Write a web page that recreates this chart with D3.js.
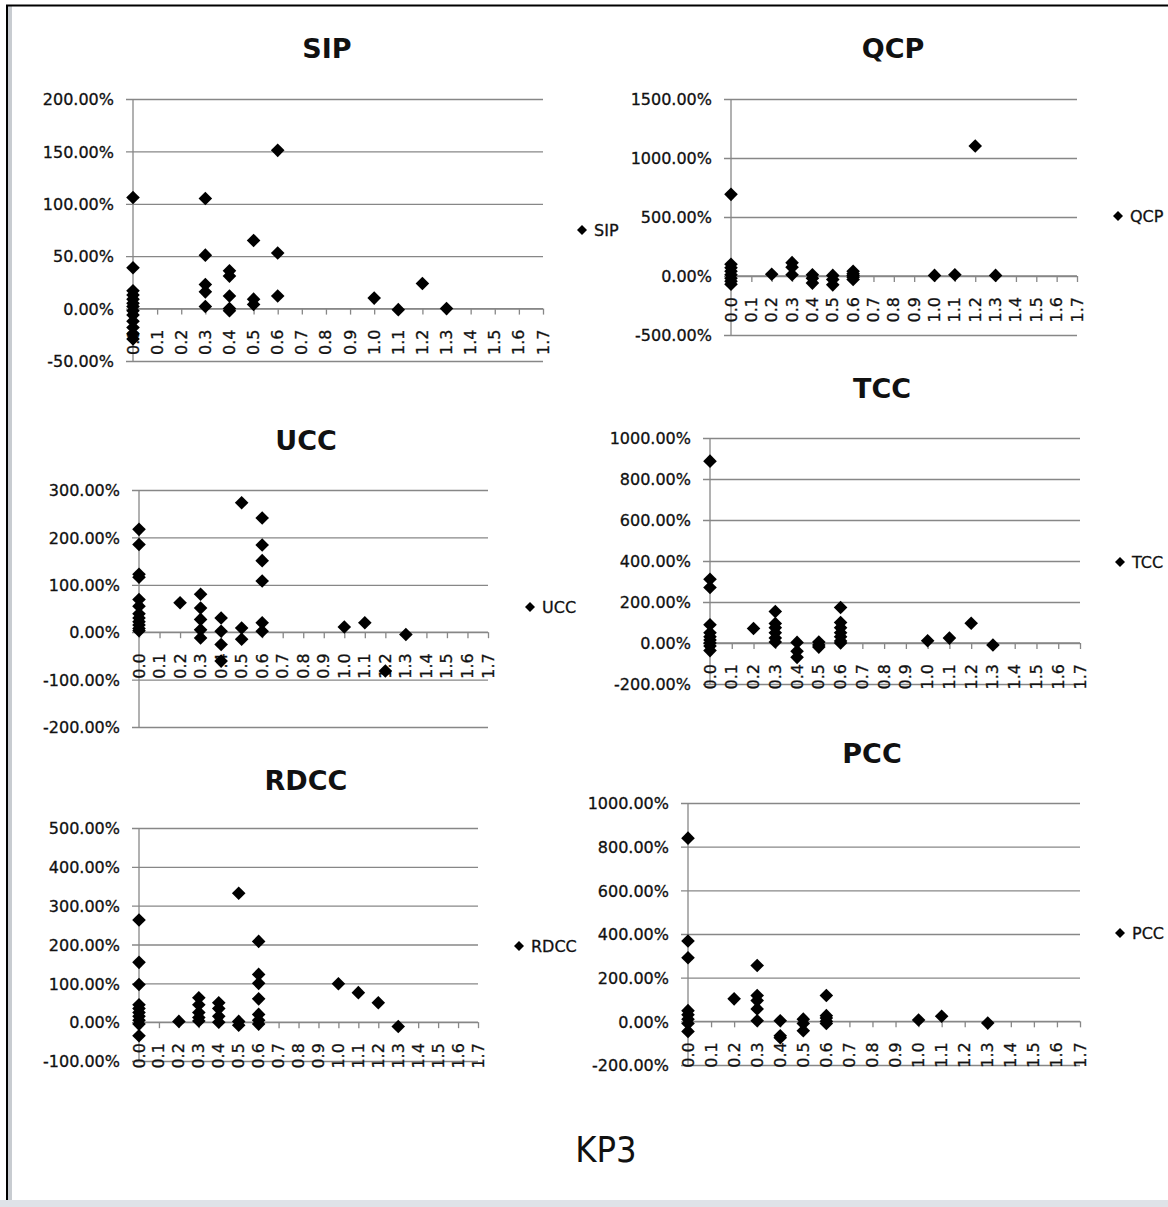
<!DOCTYPE html>
<html><head><meta charset="utf-8">
<script src="https://cdn.jsdelivr.net/npm/d3@7"></script>
<style>
html,body{margin:0;padding:0;background:#fff;}
svg{display:block;}
text{font-family:"DejaVu Sans",Verdana,sans-serif;fill:#111;}
.lbl{stroke:#111;stroke-width:0.3px;}
</style></head>
<body>
<svg id="chart" width="1168" height="1207"></svg>
<script>
// ----- data (x = KP3 value, y = percent) -----
const xTicks = [0.0,0.1,0.2,0.3,0.4,0.5,0.6,0.7,0.8,0.9,1.0,1.1,1.2,1.3,1.4,1.5,1.6,1.7];

const sipPoints = [
  [0,106],[0,39],[0,17],[0,13],[0,9],[0,5],[0,2],[0,-2],[0,-6],[0,-12],[0,-18],[0,-24],[0,-29],
  [0.3,105],[0.3,51],[0.3,23],[0.3,16],[0.3,2],
  [0.4,36],[0.4,31],[0.4,12],[0.4,0],[0.4,-2],
  [0.5,65],[0.5,9],[0.5,4],
  [0.6,151],[0.6,53],[0.6,12],
  [1.0,10],[1.1,-1],[1.2,24],[1.3,0]
];
const qcpPoints = [
  [0,692],[0,99],[0,70],[0,40],[0,10],[0,-20],[0,-45],[0,-70],
  [0.2,15],
  [0.3,113],[0.3,75],[0.3,10],
  [0.4,10],[0.4,-20],[0.4,-60],
  [0.5,5],[0.5,-30],[0.5,-75],
  [0.6,40],[0.6,20],[0.6,5],[0.6,-10],[0.6,-30],
  [1.0,5],[1.1,10],[1.2,1102],[1.3,5]
];
const uccPoints = [
  [0,217],[0,185],[0,122],[0,116],[0,69],[0,55],[0,39],[0,30],[0,22],[0,15],[0,8],[0,3],
  [0.2,62],
  [0.3,80],[0.3,51],[0.3,27],[0.3,5],[0.3,-12],
  [0.4,30],[0.4,2],[0.4,-26],[0.4,-61],
  [0.5,273],[0.5,9],[0.5,-15],
  [0.6,241],[0.6,184],[0.6,151],[0.6,108],[0.6,20],[0.6,2],
  [1.0,11],[1.1,20],[1.2,-82],[1.3,-5]
];
const tccPoints = [
  [0,887],[0,311],[0,271],[0,89],[0,50],[0,30],[0,15],[0,0],[0,-15],[0,-37],
  [0.2,71],
  [0.3,154],[0.3,95],[0.3,75],[0.3,50],[0.3,25],[0.3,5],
  [0.4,3],[0.4,-40],[0.4,-70],
  [0.5,5],[0.5,-10],[0.5,-20],
  [0.6,173],[0.6,100],[0.6,75],[0.6,50],[0.6,30],[0.6,10],[0.6,0],
  [1.0,11],[1.1,24],[1.2,96],[1.3,-10]
];
const rdccPoints = [
  [0,263],[0,154],[0,97],[0,45],[0,35],[0,25],[0,15],[0,5],[0,-5],[0,-35],
  [0.2,2],
  [0.3,63],[0.3,45],[0.3,25],[0.3,12],[0.3,3],
  [0.4,50],[0.4,35],[0.4,15],[0.4,0],
  [0.5,332],[0.5,2],[0.5,-8],
  [0.6,208],[0.6,123],[0.6,100],[0.6,60],[0.6,20],[0.6,5],[0.6,-5],
  [1.0,99],[1.1,76],[1.2,50],[1.3,-11]
];
const pccPoints = [
  [0,839],[0,368],[0,291],[0,49],[0,30],[0,10],[0,-10],[0,-46],
  [0.2,103],
  [0.3,256],[0.3,118],[0.3,95],[0.3,57],[0.3,3],
  [0.4,3],[0.4,-66],[0.4,-75],
  [0.5,10],[0.5,-10],[0.5,-43],
  [0.6,118],[0.6,26],[0.6,15],[0.6,0],[0.6,-10],
  [1.0,6],[1.1,23],[1.3,-8]
];

const sipTicks  = [-50,0,50,100,150,200];
const qcpTicks  = [-500,0,500,1000,1500];
const uccTicks  = [-200,-100,0,100,200,300];
const tccTicks  = [-200,0,200,400,600,800,1000];
const rdccTicks = [-100,0,100,200,300,400,500];
const pccTicks  = [-200,0,200,400,600,800,1000];

const titles = ["SIP","QCP","UCC","TCC","RDCC","PCC"];
const xAxisTitle = "KP3";

// ----- layout -----
const panels = [
  {name:titles[0], pts:sipPoints,  ticks:sipTicks,  L:133, R:543,  T:99,  B:361,  tx:327, ty:58,  lx:582,  ly:230},
  {name:titles[1], pts:qcpPoints,  ticks:qcpTicks,  L:731, R:1077, T:99,  B:335,  tx:893, ty:58,  lx:1118, ly:216},
  {name:titles[2], pts:uccPoints,  ticks:uccTicks,  L:139, R:488,  T:490, B:727,  tx:306, ty:450, lx:530,  ly:607},
  {name:titles[3], pts:tccPoints,  ticks:tccTicks,  L:710, R:1080, T:438, B:684,  tx:882, ty:398, lx:1120, ly:562},
  {name:titles[4], pts:rdccPoints, ticks:rdccTicks, L:139, R:478,  T:828, B:1061, tx:306, ty:790, lx:519,  ly:946},
  {name:titles[5], pts:pccPoints,  ticks:pccTicks,  L:688, R:1080, T:803, B:1065, tx:872, ty:763, lx:1120, ly:933}
];

const svg = d3.select("#chart");
const gridColor = "#878787";

// frame
svg.append("rect").attr("x",0).attr("y",1200).attr("width",1168).attr("height",7).attr("fill","#dfe3e8");
svg.append("rect").attr("x",8).attr("y",6).attr("width",4).attr("height",1194).attr("fill","#c8ccd1");
svg.append("line").attr("x1",6).attr("x2",1168).attr("y1",5.5).attr("y2",5.5).attr("stroke","#000").attr("stroke-width",2);
svg.append("line").attr("x1",7).attr("x2",7).attr("y1",5).attr("y2",1200).attr("stroke","#000").attr("stroke-width",2);

function diamond(s){ return `M0,${-s}L${s},0L0,${s}L${-s},0Z`; }

panels.forEach(p => {
  const g = svg.append("g");
  const ext = d3.extent(p.ticks);
  const x = d3.scaleLinear().domain([0,1.7]).range([p.L,p.R]);
  const y = d3.scaleLinear().domain(ext).range([p.B,p.T]);

  const yAxis = d3.axisLeft(y).tickValues(p.ticks).tickSize(-(p.R-p.L)).tickSizeOuter(0)
      .tickFormat(d => d.toFixed(2) + "%");
  const ya = g.append("g").attr("transform",`translate(${p.L},0)`).call(yAxis);
  ya.select(".domain").remove();
  ya.selectAll(".tick line").attr("stroke",gridColor).attr("stroke-width",1.3).attr("x2",p.R-p.L).attr("x1",-7);
  ya.selectAll(".tick text").attr("class","lbl").attr("x",-19).attr("dy","0.36em")
    .style("font-family",'"DejaVu Sans",Verdana,sans-serif').style("font-size","16px").attr("fill","#111");

  g.append("line").attr("x1",p.L).attr("x2",p.L).attr("y1",p.T).attr("y2",p.B)
    .attr("stroke",gridColor).attr("stroke-width",1.3);

  const y0 = y(0);
  const xAxis = d3.axisBottom(x).tickValues(xTicks).tickSize(6).tickSizeOuter(0)
      .tickFormat(d3.format(".1f"));
  const xa = g.append("g").attr("transform",`translate(0,${y0})`).call(xAxis);
  xa.select(".domain").attr("stroke",gridColor).attr("stroke-width",1.3).attr("d",`M${p.L},0H${p.R}`);
  xa.selectAll(".tick line").attr("stroke",gridColor).attr("stroke-width",1.3);
  xa.selectAll(".tick text").attr("class","lbl")
    .attr("transform","translate(5,21) rotate(-90)")
    .attr("x",0).attr("y",0).attr("dy",0)
    .attr("text-anchor","end")
    .style("font-family",'"DejaVu Sans",Verdana,sans-serif').style("font-size","16px").attr("fill","#111");

  g.append("g").selectAll("path").data(p.pts).join("path")
    .attr("d",diamond(6.8))
    .attr("transform",d => `translate(${x(d[0])},${y(d[1])})`)
    .attr("fill","#000");

  svg.append("text").attr("x",p.tx).attr("y",p.ty).attr("text-anchor","middle")
    .style("font-size","27px").style("font-weight","bold").text(p.name);

  svg.append("path").attr("d",diamond(5)).attr("transform",`translate(${p.lx},${p.ly})`).attr("fill","#000");
  svg.append("text").attr("class","lbl").attr("x",p.lx+12).attr("y",p.ly+6).style("font-size","16px").text(p.name);
});

svg.append("text").attr("x",606).attr("y",1162).attr("text-anchor","middle")
  .style("font-family",'"Liberation Sans Narrow","DejaVu Sans Condensed",sans-serif')
  .style("font-size","36px").text(xAxisTitle);
</script>
</body></html>
